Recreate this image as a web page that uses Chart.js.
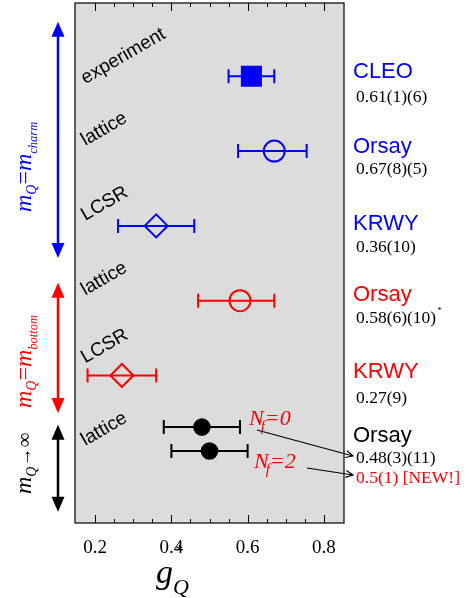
<!DOCTYPE html>
<html><head><meta charset="utf-8">
<script src="https://cdn.jsdelivr.net/npm/chart.js@4/dist/chart.umd.min.js"></script>
<style>html,body{margin:0;padding:0;background:#fff}#wrap{width:470px;height:598px;position:relative}canvas{display:block}</style>
</head><body><div id="wrap"><canvas id="c" width="470" height="598"></canvas></div>
<script>
// ---------------- data ----------------
const methods   = ['experiment','lattice','LCSR','lattice','LCSR','lattice'];
const sources   = ['CLEO','Orsay','KRWY','Orsay','KRWY','Orsay'];
const gValues   = [0.61, 0.67, 0.36, 0.58, 0.27, 0.48, 0.50];
const gLow      = [0.55, 0.575, 0.26, 0.47, 0.18, 0.38, 0.40];
const gHigh     = [0.67, 0.755, 0.46, 0.67, 0.36, 0.58, 0.60];
const rows      = [1, 2, 3, 4, 5, 5.69, 6.01];
const results   = ['0.61(1)(6)','0.67(8)(5)','0.36(10)','0.58(6)(10)','0.27(9)','0.48(3)(11)','0.5(1) [NEW!]'];
const nfLabels  = ['0','2'];
const xTickValues = [0.2, 0.4, 0.6, 0.8];
const xTickLabels = ['0.2','0.4','0.6','0.8'];
const xMinorTicks = [0.25,0.3,0.35,0.45,0.5,0.55,0.65,0.7,0.75];
const groupNames = ['charm','bottom','∞'];
const groupSpans = [[0.27,3.43],[3.76,5.5],[5.66,6.82]];

// ---------------- style ----------------
const SERIF = "'Liberation Serif','Times New Roman',serif";
const SANS  = "'Liberation Sans',Arial,sans-serif";
const BLUE='#0000ff', RED='#ff0000', BLACK='#000000';
const pointColors = [BLUE,BLUE,BLUE,RED,RED,BLACK,BLACK];
const pointStyles = ['rect','circle','rectRot','circle','rectRot','circle','circle'];
const pointFilled = [true,false,false,false,false,true,true];
const pointRadii  = [13.5,10.5,11.5,10.5,11.5,7.8,7.8];
const groupColors = [BLUE,RED,BLACK];
const sourceColors = [BLUE,BLUE,BLUE,RED,RED,BLACK];
const resultColors = [BLACK,BLACK,BLACK,BLACK,BLACK,BLACK,RED];
// pixel offsets relative to row positions
const sourceRow = [0,1,2,3,4,5], sourceDy = [2,2,4,0,3,15];
const resultDy  = [26,23,26,22,28,36,32];
const methodRow = [0,1,2,3,4,5], methodDy = [8,-5,-5,-5,-12,19];

const plot = {
  id:'plot',
  beforeDraw(chart){
    const {ctx, chartArea:a} = chart;
    ctx.save();
    ctx.fillStyle='#fff'; ctx.fillRect(0,0,chart.width,chart.height);
    ctx.fillStyle='#dcdcdc'; ctx.fillRect(a.left,a.top,a.right-a.left,a.bottom-a.top);
    ctx.restore();
  },
  beforeDatasetsDraw(chart){
    const {ctx, scales:{x,y}} = chart;
    ctx.save(); ctx.lineWidth=2;
    gValues.forEach((v,i)=>{
      const yp=y.getPixelForValue(rows[i]);
      const x0=x.getPixelForValue(gLow[i]), x1=x.getPixelForValue(gHigh[i]);
      ctx.strokeStyle=pointColors[i];
      ctx.beginPath();
      ctx.moveTo(x0,yp); ctx.lineTo(x1,yp);
      ctx.moveTo(x0,yp-7); ctx.lineTo(x0,yp+7);
      ctx.moveTo(x1,yp-7); ctx.lineTo(x1,yp+7);
      ctx.stroke();
    });
    ctx.restore();
  },
  afterDraw(chart){
    const {ctx, chartArea:a, scales:{x,y}} = chart;
    ctx.save();
    // frame
    ctx.strokeStyle='#000'; ctx.lineWidth=1.2;
    ctx.strokeRect(a.left,a.top,a.right-a.left,a.bottom-a.top);
    // inside ticks top & bottom
    ctx.beginPath();
    const tick=(v,len)=>{const p=Math.round(x.getPixelForValue(v))+0.5;
      ctx.moveTo(p,a.bottom); ctx.lineTo(p,a.bottom-len);
      ctx.moveTo(p,a.top); ctx.lineTo(p,a.top+len);};
    xTickValues.forEach(v=>tick(v,8)); xMinorTicks.forEach(v=>tick(v,4));
    ctx.lineWidth=1; ctx.stroke();

    // method labels, rotated
    ctx.fillStyle='#000'; ctx.font='19px '+SANS; ctx.textBaseline='alphabetic'; ctx.textAlign='left';
    methods.forEach((m,i)=>{
      const px=x.getPixelForValue(0.174), py=y.getPixelForValue(rows[methodRow[i]])+methodDy[i];
      ctx.save(); ctx.translate(px,py); ctx.rotate(-30*Math.PI/180); ctx.fillText(m,0,0); ctx.restore();
    });

    // right labels
    const xr = a.right+9;
    sources.forEach((s,i)=>{
      ctx.fillStyle=sourceColors[i]; ctx.font='22px '+SANS;
      ctx.fillText(s, xr, y.getPixelForValue(rows[sourceRow[i]])+sourceDy[i]);
    });
    results.forEach((r,i)=>{
      ctx.fillStyle=resultColors[i]; ctx.font='17.5px '+SERIF;
      const yy=y.getPixelForValue(rows[i])+resultDy[i];
      ctx.fillText(r, xr+3, yy);
      if(i===3){ const w=ctx.measureText(r).width; ctx.font='9px '+SERIF; ctx.fillText('*', xr+4+w, yy-10); }
    });

    // N_f labels and arrows
    const nfPos=[[249,425],[254,468]];
    nfLabels.forEach((n,i)=>{
      ctx.fillStyle=RED;
      let [px,py]=nfPos[i];
      ctx.font='italic 22px '+SERIF; ctx.fillText('N',px,py); px+=ctx.measureText('N').width-3;
      ctx.font='italic 15px '+SERIF; ctx.fillText('f',px,py+6); px+=ctx.measureText('f').width;
      ctx.font='italic 22px '+SERIF; ctx.fillText('='+n,px,py);
    });
    const arrow=(x0,y0,x1,y1)=>{
      ctx.beginPath(); ctx.moveTo(x0,y0); ctx.lineTo(x1,y1);
      const ang=Math.atan2(y1-y0,x1-x0), L=8, s=0.45;
      ctx.moveTo(x1-L*Math.cos(ang-s),y1-L*Math.sin(ang-s)); ctx.lineTo(x1,y1);
      ctx.lineTo(x1-L*Math.cos(ang+s),y1-L*Math.sin(ang+s));
      ctx.strokeStyle='#000'; ctx.lineWidth=1.2; ctx.stroke();
    };
    arrow(257,430,353,456); arrow(307,468,353,475);

    // left group arrows
    const ax=58;
    groupSpans.forEach((sp,i)=>{
      const y0=y.getPixelForValue(sp[0]), y1=y.getPixelForValue(sp[1]);
      ctx.strokeStyle=groupColors[i]; ctx.fillStyle=groupColors[i]; ctx.lineWidth=2.5;
      ctx.beginPath(); ctx.moveTo(ax,y0+10); ctx.lineTo(ax,y1-10); ctx.stroke();
      ctx.beginPath(); ctx.moveTo(ax,y0); ctx.lineTo(ax-6.5,y0+15); ctx.lineTo(ax+6.5,y0+15); ctx.closePath(); ctx.fill();
      ctx.beginPath(); ctx.moveTo(ax,y1); ctx.lineTo(ax-6.5,y1-15); ctx.lineTo(ax+6.5,y1-15); ctx.closePath(); ctx.fill();
    });
    // left rotated labels
    const rich=(px,py,parts,color)=>{
      ctx.save(); ctx.translate(px,py); ctx.rotate(-Math.PI/2); ctx.fillStyle=color;
      let cx=0;
      parts.forEach(p=>{ctx.font=(p.it?'italic ':'')+p.size+'px '+SERIF; ctx.fillText(p.t,cx,p.dy||0); cx+=ctx.measureText(p.t).width+(p.k||0);});
      ctx.restore();
    };
    const massParts=(name)=>[{t:'m',size:24,it:true},{t:'Q',size:14,it:true,dy:5},{t:'=',size:24},{t:'m',size:24,it:true},{t:name,size:12.5,it:true,dy:6}];
    rich(31,212,massParts(groupNames[0]),BLUE);
    rich(31,408,massParts(groupNames[1]),RED);
    rich(31,494,[{t:'m',size:24,it:true},{t:'Q',size:14,it:true,dy:5},{t:'→',size:19},{t:groupNames[2],size:21}],BLACK);

    // axis title g_Q
    ctx.fillStyle='#000';
    ctx.font='italic 34px '+SERIF; ctx.fillText('g',156,583);
    ctx.font='italic 22px '+SERIF; ctx.fillText('Q',173,594);
    ctx.font='17px '+SANS; ctx.fillText('*',176,557);
    ctx.restore();
  }
};

const chart = new Chart(document.getElementById('c'), {
  type:'scatter',
  data:{datasets:[{
    label:'g_Q',
    data: gValues.map((v,i)=>({x:v,y:rows[i]})),
    pointStyle: pointStyles,
    pointRadius: pointRadii,
    pointHoverRadius: pointRadii,
    pointBackgroundColor: pointColors.map((c,i)=>pointFilled[i]?c:'rgba(0,0,0,0)'),
    pointBorderColor: pointColors,
    pointBorderWidth: 2,
    showLine:false
  }]},
  options:{
    responsive:false, animation:false, devicePixelRatio:1, events:[],
    layout:{autoPadding:false,padding:{left:75,right:126,top:3,bottom:0}},
    plugins:{legend:{display:false},tooltip:{enabled:false}},
    scales:{
      x:{type:'linear',min:0.147,max:0.853,position:'bottom',
         grid:{display:false,drawTicks:false}, border:{display:false},
         afterBuildTicks:s=>{s.ticks=xTickValues.map(v=>({value:v}));},
         afterFit:s=>{s.height=75;},
         ticks:{autoSkip:false,maxRotation:0,minRotation:0,padding:14,color:'#000',
                font:{family:SERIF,size:19},
                callback:(v,i)=>xTickLabels[i]}},
      y:{type:'linear',min:0.02,max:6.972,reverse:true,display:false}
    }
  },
  plugins:[plot]
});
</script></body></html>
